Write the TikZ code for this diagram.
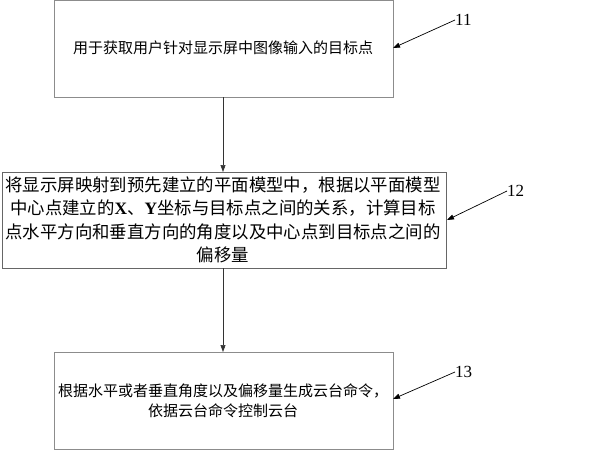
\documentclass[tikz,border=0pt]{standalone}
\usepackage{fontspec}
\setmainfont{Liberation Serif}
\newfontfamily\cjk{Noto Sans CJK SC}
\usetikzlibrary{arrows.meta}
\begin{document}
\begin{tikzpicture}[x=1pt,y=-1pt,
  boxstyle/.style={draw=black!45,line width=0.8pt},
  flow/.style={draw=black!80,line width=0.6pt,-{Triangle[length=7pt,width=5pt]}},
  callout/.style={draw=black,line width=0.7pt,-{Triangle[length=7pt,width=5pt]}},
  txt/.style={inner sep=0pt,align=center}]
\useasboundingbox (0,0) rectangle (591,450);
\fill[white] (0,0) rectangle (591,450);
% boxes
\draw[boxstyle] (54,0.6) rectangle (393,97);
\draw[boxstyle,draw=black!60] (2,172) rectangle (446,268);
\draw[boxstyle] (54,352) rectangle (393,449.4);
\coordinate (b1b) at (223,97);
\coordinate (b2t) at (223,172);
\coordinate (b2b) at (223,268);
\coordinate (b3t) at (223,352);
% texts
\node[txt,font=\cjk\fontsize{15}{20}\selectfont] (t1) at (223,48) {用于获取用户针对显示屏中图像输入的目标点};
\node[txt,font=\cjk\fontsize{17.4}{23.5}\selectfont] (t2) at (223,220) {将显示屏映射到预先建立的平面模型中，根据以平面模型\\中心点建立的{\rmfamily\bfseries X}、{\rmfamily\bfseries Y}坐标与目标点之间的关系，计算目标\\点水平方向和垂直方向的角度以及中心点到目标点之间的\\偏移量};
\node[txt,font=\cjk\fontsize{15}{20}\selectfont] (t3) at (223,401) {根据水平或者垂直角度以及偏移量生成云台命令，\\依据云台命令控制云台};
% flow arrows
\draw[flow] (b1b) -- (b2t);
\draw[flow] (b2b) -- (b3t);
% labels
\node[inner sep=0pt,anchor=west,font=\fontsize{17}{17}\selectfont] (l11) at (455,20) {11};
\node[inner sep=0pt,anchor=west,font=\fontsize{17}{17}\selectfont] (l12) at (507,191) {12};
\node[inner sep=0pt,anchor=west,font=\fontsize{17}{17}\selectfont] (l13) at (455,372) {13};
\coordinate (a1) at (393,48);
\coordinate (a2) at (447,220);
\coordinate (a3) at (393,399);
\draw[callout] (l11.west) -- (a1);
\draw[callout] (l12.west) -- (a2);
\draw[callout] (l13.west) -- (a3);
\end{tikzpicture}
\end{document}
